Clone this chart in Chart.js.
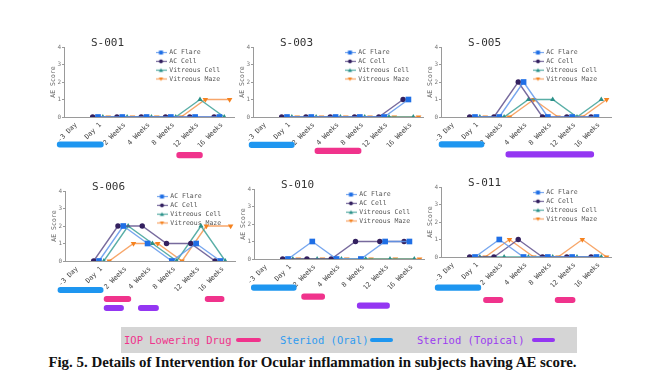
<!DOCTYPE html>
<html>
<head>
<meta charset="utf-8">
<script src="https://cdn.jsdelivr.net/npm/chart.js@4.4.1/dist/chart.umd.min.js"></script>
<style>
  html, body { margin: 0; padding: 0; background: #fff; }
  body { width: 645px; height: 382px; position: relative; overflow: hidden; }
  canvas { position: absolute; }
  #key { position: absolute; left: 121px; top: 327px; width: 456px; height: 26px; background: #d5d5d5; }
  #key span { position: absolute; top: 6px; font: 10.5px "DejaVu Sans Mono", monospace; line-height: 14px; white-space: nowrap; }
  #key i { position: absolute; top: 11px; height: 4px; border-radius: 2px; }
  #caption { position: absolute; left: -10px; top: 354px; width: 645px; text-align: center; line-height: 16px;
             font: bold 14.9px "Liberation Serif", serif; color: #111; white-space: nowrap; }
</style>
</head>
<body>
<div id="key">
  <span style="left:3px;color:#f0338c">IOP Lowering Drug</span><i style="left:115px;width:25px;background:#f0338c"></i>
  <span style="left:159px;color:#2f9bf0">Steriod (Oral)</span><i style="left:249px;width:23px;background:#1e96f0"></i>
  <span style="left:296px;color:#9b3cf0">Steriod (Topical)</span><i style="left:411px;width:23px;background:#9436f2"></i>
</div>
<div id="caption">Fig. 5. Details of Intervention for Ocular inflammation in subjects having AE score.</div>
<script>
const timepoints = ['-3 Day', 'Day 1', '2 Weeks', '4 Weeks', '8 Weeks', '12 Weeks', '16 Weeks'];
const scoreTicks = [0, 1, 2, 3, 4];
const seriesNames = ['AC Flare', 'AC Cell', 'Vitreous Cell', 'Vitreous Maze'];
const drugNames = ['Steriod (Oral)', 'IOP Lowering Drug', 'Steriod (Topical)'];

// AE scores per timepoint (no visit at -3 Day)
const s001Flare = [null, 0, 0, 0, 0, 0, 0];
const s001Cell  = [null, 0, 0, 0, 0, 0, 0];
const s001VCell = [null, 0, 0, 0, 0, 1, 0];
const s001VMaze = [null, 0, 0, 0, 0, 1, 1];

const s003Flare = [null, 0, 0, 0, 0, 0, 1];
const s003Cell  = [null, 0, 0, 0, 0, 0, 1];
const s003VCell = [null, 0, 0, 0, 0, 0, 0];
const s003VMaze = [null, 0, 0, 0, 0, 0, 0];

const s005Flare = [null, 0, 0, 2, 0, 0, 0];
const s005Cell  = [null, 0, 0, 2, 0, 0, 0];
const s005VCell = [null, 0, 0, 1, 1, 0, 1];
const s005VMaze = [null, 0, 0, 1, 0, 0, 1];

const s006Flare = [null, 0, 2, 1, 0, 1, 0];
const s006Cell  = [null, 0, 2, 2, 1, 1, 0];
const s006VCell = [null, 0, 2, 1, 0, 2, 0];
const s006VMaze = [null, 0, 1, 1, 0, 2, 2];

const s010Flare = [null, 0, 1, 0, 0, 1, 1];
const s010Cell  = [null, 0, 0, 0, 1, 1, 1];
const s010VCell = [null, 0, 0, 0, 0, 0, 0];
const s010VMaze = [null, 0, 0, 0, 0, 0, 0];

const s011Flare = [null, 0, 1, 0, 0, 0, 0];
const s011Cell  = [null, 0, 0, 1, 0, 0, 0];
const s011VCell = [null, 0, 0, 0, 0, 0, 0];
const s011VMaze = [null, 0, 1, 0, 0, 1, 0];

// intervention periods [start, end] in timepoint units
const s001Oral = [[-0.78, 1.12]];
const s001Iop = [[4.14, 5.2]];
const s001Topical = [];

const s003Oral = [[-0.66, 1.2]];
const s003Iop = [[2.05, 3.95]];
const s003Topical = [];

const s005Oral = [[-0.58, 1.27]];
const s005Iop = [];
const s005Topical = [[2.17, 5.79]];

const s006Oral = [[-0.79, 1.07]];
const s006Iop = [[1.11, 2.21], [5.27, 6.05]];
const s006Topical = [[1.11, 1.91], [2.52, 3.35]];

const s010Oral = [[-0.61, 1.24]];
const s010Iop = [[1.46, 2.41]];
const s010Topical = [[3.75, 5.08]];

const s011Oral = [[-0.74, 1.14]];
const s011Iop = [[1.25, 2.05], [4.2, 5.02]];
const s011Topical = [];

const seriesStyle = [
  { marker: 'rect', radius: 4, rotation: 0, point: '#1f6fe6', line: 'rgba(95,150,235,0.85)', shift: -0.1 },
  { marker: 'circle', radius: 2.7, rotation: 0, point: '#33205f', line: 'rgba(95,80,140,0.85)', shift: -0.32 },
  { marker: 'triangle', radius: 3, rotation: 0, point: '#2a9088', line: 'rgba(60,160,150,0.85)', shift: 0.1 },
  { marker: 'triangle', radius: 3.2, rotation: 180, point: '#f5821f', line: 'rgba(246,150,80,0.85)', shift: 0.32 }
];
const drugColors = ['#1e96f0', '#f0338c', '#9436f2'];

const panels = [
  { name: 'S-001', scores: [s001Flare, s001Cell, s001VCell, s001VMaze], drugs: [s001Oral, s001Iop, s001Topical], x: 64, y: 47, barY: 144.5, barGap: 10.7 },
  { name: 'S-003', scores: [s003Flare, s003Cell, s003VCell, s003VMaze], drugs: [s003Oral, s003Iop, s003Topical], x: 253, y: 47, barY: 144.8, barGap: 6 },
  { name: 'S-005', scores: [s005Flare, s005Cell, s005VCell, s005VMaze], drugs: [s005Oral, s005Iop, s005Topical], x: 441, y: 47, barY: 144.3, barGap: 10 },
  { name: 'S-006', scores: [s006Flare, s006Cell, s006VCell, s006VMaze], drugs: [s006Oral, s006Iop, s006Topical], x: 65, y: 191, barY: 290, barGap: 9 },
  { name: 'S-010', scores: [s010Flare, s010Cell, s010VCell, s010VMaze], drugs: [s010Oral, s010Iop, s010Topical], x: 254, y: 189, barY: 287.7, barGap: 9 },
  { name: 'S-011', scores: [s011Flare, s011Cell, s011VCell, s011VMaze], drugs: [s011Oral, s011Iop, s011Topical], x: 441, y: 187, barY: 287.7, barGap: 12.3 }
];

Chart.defaults.font.family = '"DejaVu Sans Mono", monospace';

// small line + marker icons for the legend
const legendIcons = seriesStyle.map((s) => {
  const c = document.createElement('canvas');
  c.width = 11; c.height = 7;
  const g = c.getContext('2d');
  g.strokeStyle = s.line; g.lineWidth = 1.2;
  g.beginPath(); g.moveTo(0, 3.5); g.lineTo(11, 3.5); g.stroke();
  g.fillStyle = s.point;
  g.beginPath();
  if (s.marker === 'rect') g.rect(3.5, 1.5, 4, 4);
  else if (s.marker === 'circle') g.arc(5.5, 3.5, 2, 0, Math.PI * 2);
  else if (s.rotation) { g.moveTo(3.3, 2); g.lineTo(7.7, 2); g.lineTo(5.5, 5.5); }
  else { g.moveTo(3.3, 5.2); g.lineTo(7.7, 5.2); g.lineTo(5.5, 1.5); }
  g.fill();
  return c;
});

// put title and legend where the original has them
const panelBoxes = {
  id: 'panelBoxes',
  afterLayout(chart) {
    const a = chart.chartArea;
    const t = chart.titleBlock;
    if (t) {
      const h = t.height;
      t.left = a.left + 27; t.right = t.left + 80; t.width = 80;
      t.top = a.top - 9; t.bottom = t.top + h;
    }
    const lg = chart.legend;
    if (lg) {
      const w = lg.width;
      lg.left = a.left + 89.7; lg.right = lg.left + w;
      lg.top = a.top; lg.bottom = a.bottom; lg.height = a.bottom - a.top;
    }
  }
};

const W = 190, H = 116;

panels.forEach((p) => {
  const cv = document.createElement('canvas');
  cv.width = W; cv.height = H;
  cv.style.left = (p.x - 16) + 'px';
  cv.style.top = (p.y - 16) + 'px';
  document.body.appendChild(cv);

  const lineChart = new Chart(cv, {
    type: 'line',
    data: {
      datasets: seriesNames.map((name, k) => {
        const s = seriesStyle[k];
        return {
          label: name,
          data: p.scores[k].map((v, i) => ({ x: i + s.shift, y: v })).filter((d) => d.y !== null),
          borderColor: s.line,
          borderWidth: 1.4,
          backgroundColor: s.point,
          pointBackgroundColor: s.point,
          pointBorderColor: s.point,
          pointBorderWidth: 0,
          pointStyle: s.marker,
          pointRadius: s.radius,
          pointRotation: s.rotation,
          tension: 0,
          fill: false
        };
      })
    },
    options: {
      responsive: false,
      animation: false,
      events: [],
      layout: { padding: { left: 0, right: 4, top: 5, bottom: 0 } },
      plugins: {
        tooltip: { enabled: false },
        title: {
          display: true, text: p.name, align: 'start', color: '#333', padding: 0,
          font: { size: 11, lineHeight: 1, weight: 'normal' }
        },
        legend: {
          position: 'chartArea',
          align: 'start',
          labels: {
            usePointStyle: true, pointStyleWidth: 10, padding: 2.3,
            font: { size: 6.5 }, color: '#555',
            generateLabels: () => seriesNames.map((n, k) => ({
              text: n, pointStyle: legendIcons[k], fillStyle: seriesStyle[k].point,
              strokeStyle: seriesStyle[k].point, lineWidth: 0, hidden: false, datasetIndex: k, fontColor: '#555'
            }))
          }
        }
      },
      scales: {
        x: {
          type: 'linear', min: -0.5, max: 6.5,
          afterBuildTicks: (s) => { s.ticks = timepoints.map((t, i) => ({ value: i })); },
          afterFit: (s) => { s.height = 30; },
          ticks: {
            callback: (v) => timepoints[v],
            minRotation: 45, maxRotation: 45, autoSkip: false,
            font: { size: 6.8 }, color: '#444', padding: 4
          },
          grid: { display: false, drawTicks: false },
          border: { color: '#9a9a9a', width: 1 }
        },
        y: {
          min: 0, max: 4,
          afterBuildTicks: (s) => { s.ticks = scoreTicks.map((v) => ({ value: v })); },
          afterFit: (s) => { s.width = 16; },
          ticks: { font: { size: 6 }, color: '#777', padding: 1 },
          grid: { drawOnChartArea: false, tickLength: 2, color: '#9a9a9a' },
          border: { color: '#9a9a9a', width: 1 },
          title: { display: true, text: 'AE Score', font: { size: 6.5 }, color: '#666', padding: { top: 1, bottom: 0 } }
        }
      }
    },
    plugins: [panelBoxes]
  });

  // intervention bars under the x axis, same horizontal scale
  const a = lineChart.chartArea;
  const present = [0, 1, 2].filter((k) => p.drugs[k].length);
  const span = p.barGap * present.length;
  const top = p.barY - p.barGap / 2;
  const ctop = Math.floor(top) - 1;
  const ch = Math.ceil(span) + 4;
  const bc = document.createElement('canvas');
  bc.width = W; bc.height = ch;
  bc.style.left = (p.x - 16) + 'px';
  bc.style.top = ctop + 'px';
  document.body.appendChild(bc);
  new Chart(bc, {
    type: 'bar',
    data: {
      labels: present.map((k) => drugNames[k]),
      datasets: present.map((k) => ({
        label: drugNames[k],
        data: p.drugs[k].map((r) => ({ x: r, y: drugNames[k] })),
        backgroundColor: drugColors[k],
        barThickness: 5.5,
        borderRadius: 3,
        borderSkipped: false,
        grouped: false,
        clip: false
      }))
    },
    options: {
      indexAxis: 'y',
      responsive: false,
      animation: false,
      events: [],
      layout: { padding: { left: a.left, right: W - a.right, top: top - ctop, bottom: ch - (top - ctop) - span } },
      plugins: { legend: { display: false }, tooltip: { enabled: false }, title: { display: false } },
      scales: {
        x: { type: 'linear', min: -0.5, max: 6.5, display: false },
        y: { type: 'category', display: false, offset: true }
      }
    }
  });
});
</script>
</body>
</html>
